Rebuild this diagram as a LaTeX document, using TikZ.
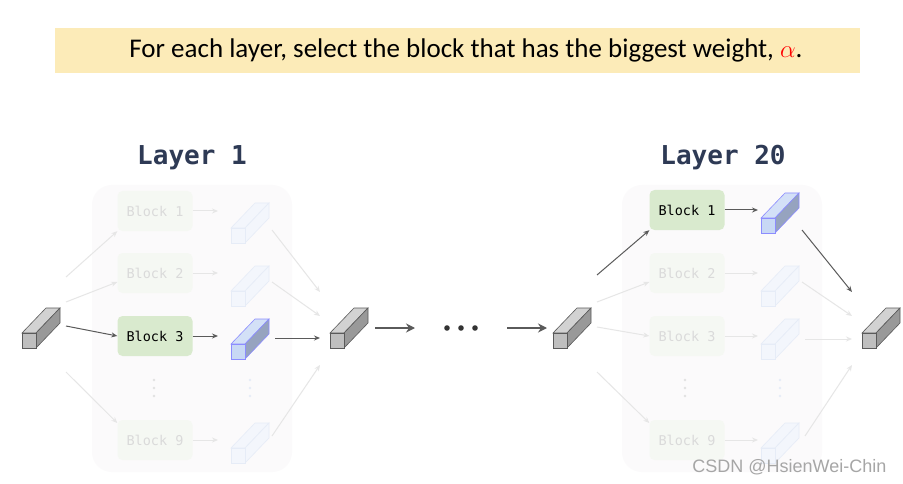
\documentclass[tikz,border=0pt]{standalone}
\usepackage{fontspec}
\setmainfont{Carlito}
\newfontfamily\monof{DejaVu Sans Mono}
\newfontfamily\wmf{Liberation Sans}
\usetikzlibrary{arrows.meta}
\definecolor{banner}{HTML}{FCEBB8}
\definecolor{navy}{HTML}{2E3A55}
\definecolor{blkg}{HTML}{D9EACE}
\definecolor{blkb}{HTML}{C8D8F5}
\definecolor{blks}{HTML}{96A3BF}
\definecolor{fblk}{HTML}{F5F8F3}
\definecolor{fcube}{HTML}{F3F6FC}
\definecolor{fcstr}{HTML}{E6ECF7}
\definecolor{ftxt}{HTML}{DADADA}
\definecolor{farr}{HTML}{E6E6E6}
\definecolor{darr}{HTML}{5A5A5A}
\definecolor{panel}{HTML}{FBFAFB}
\newcommand\mycube[6]{% x y front top side stroke
  \begin{scope}[shift={(#1,#2)},draw=#6,line width=0.6pt]
   \filldraw[fill=#4] (0,0)--(24,-25)--(38,-25)--(14,0)--cycle;
   \filldraw[fill=#5] (14,0)--(38,-25)--(38,-10)--(14,15)--cycle;
   \filldraw[fill=#3] (0,0) rectangle (14,15);
  \end{scope}}
\newcommand\myvdots[3]{% x y color
  \foreach \k in {-8,0,8} \fill[#3] (#1,#2+\k) circle (1.3);}
\tikzset{
 blk/.style={rounded corners=5pt,fill=blkg,minimum width=75pt,minimum height=40pt,font=\monof\fontsize{13.5}{15}\selectfont,text=black,inner sep=0pt},
 fblk/.style={blk,fill=fblk,text=ftxt},
 darrow/.style={draw=darr,line width=1pt,-{Stealth[length=6pt,width=5pt]}},
 farrow/.style={draw=farr,line width=1pt,-{Stealth[length=6pt,width=5pt]}},
 bigarrow/.style={draw=darr,line width=2.2pt,-{Stealth[length=9pt,width=9pt]}},
 title/.style={font=\monof\bfseries\fontsize{26}{29}\selectfont,text=navy},
}
\begin{document}
\begin{tikzpicture}[x=1pt,y=-1pt]
\useasboundingbox (0,0) rectangle (903,484);
\fill[white] (0,0) rectangle (903,484);
\fill[banner] (55,28) rectangle (860,73);
\node (ban) at (466,50) {\fontsize{27}{30}\selectfont For each layer, select the block that has the biggest weight, \textcolor{red}{$\alpha$}.};
\node[title] (t1) at (192,158) {Layer 1};
\node[title] (t20) at (723,158) {Layer 20};
\fill[panel,rounded corners=20pt] (92,185) rectangle (292,472);
\fill[panel,rounded corners=20pt] (622,185) rectangle (822,472);
% Layer 1
\node[fblk] (a1) at (155,211) {Block 1};
\node[fblk] (a2) at (155,273) {Block 2};
\node[blk] (a3) at (155,336) {Block 3};
\node[fblk] (a9) at (155,440) {Block 9};
\myvdots{154}{388}{ftxt!80}
\myvdots{250}{388}{fcstr}
\mycube{22}{333}{gray!50}{gray!35}{gray!80}{darr}
\mycube{231}{228}{fcube}{fcube}{fcube}{fcstr}
\mycube{231}{291}{fcube}{fcube}{fcube}{fcstr}
\mycube{231}{344}{blkb}{blkb!80}{blks}{blue!45}
\mycube{231}{448}{fcube}{fcube}{fcube}{fcstr}
\coordinate (c1) at (218,211);
\coordinate (c2) at (218,273);
\coordinate (c3) at (218,336);
\coordinate (c9) at (218,440);
\draw[farrow] (66,277) -- (a1.south west);
\draw[farrow] (66,302) -- (a2.west|-0,282);
\draw[farrow] (66,372) -- (a9.west|-0,423);
\draw[darrow] (66,326) -- (a3.west);
\draw[farrow] (a1.east) -- (c1);
\draw[farrow] (a2.east) -- (c2);
\draw[darrow] (a3.east) -- (c3);
\draw[farrow] (a9.east) -- (c9);
\coordinate (m) at (320,338);
\draw[farrow] (272,230) -- (320,292);
\draw[farrow] (272,282) -- (320,316);
\draw[farrow] (272,436) -- (320,365);
\draw[darrow] (275,338) -- (m);
\mycube{330}{333}{gray!50}{gray!35}{gray!80}{darr}
\coordinate (b1) at (375,328);
\coordinate (b2) at (415,328);
\coordinate (b3) at (507,328);
\coordinate (b4) at (547,328);
\draw[bigarrow] (b1) -- (b2);
\draw[bigarrow] (b3) -- (b4);
\foreach \dx in {447,461,475} \fill[black!80] (\dx,328) circle (2.8);
% Layer 20
\mycube{553}{333}{gray!50}{gray!35}{gray!80}{darr}
\node[blk] (d1) at (687,210) {Block 1};
\node[fblk] (d2) at (687,273) {Block 2};
\node[fblk] (d3) at (687,336) {Block 3};
\node[fblk] (d9) at (687,440) {Block 9};
\myvdots{685}{388}{ftxt!80}
\myvdots{780}{388}{fcstr}
\mycube{761}{218}{blkb}{blkb!80}{blks}{blue!45}
\mycube{761}{291}{fcube}{fcube}{fcube}{fcstr}
\mycube{761}{344}{fcube}{fcube}{fcube}{fcstr}
\mycube{761}{448}{fcube}{fcube}{fcube}{fcstr}
\coordinate (e1) at (758,210);
\coordinate (e2) at (758,273);
\coordinate (e3) at (758,336);
\coordinate (e9) at (758,440);
\draw[darrow] (597,275) -- (d1.south west);
\draw[farrow] (597,302) -- (d2.west|-0,282);
\draw[farrow] (597,327) -- (d3.west);
\draw[farrow] (597,372) -- (d9.west|-0,423);
\draw[darrow] (d1.east) -- (e1);
\draw[farrow] (d2.east) -- (e2);
\draw[farrow] (d3.east) -- (e3);
\draw[farrow] (d9.east) -- (e9);
\draw[darrow] (802,230) -- (852,292);
\draw[farrow] (802,282) -- (852,316);
\draw[farrow] (805,339) -- (852,339);
\draw[farrow] (805,436) -- (852,365);
\mycube{862}{333}{gray!50}{gray!35}{gray!80}{darr}
\node[font=\wmf\fontsize{18}{20}\selectfont,text=gray!70,anchor=east] (wm) at (890,467) {CSDN @HsienWei-Chin};
\end{tikzpicture}
\end{document}
